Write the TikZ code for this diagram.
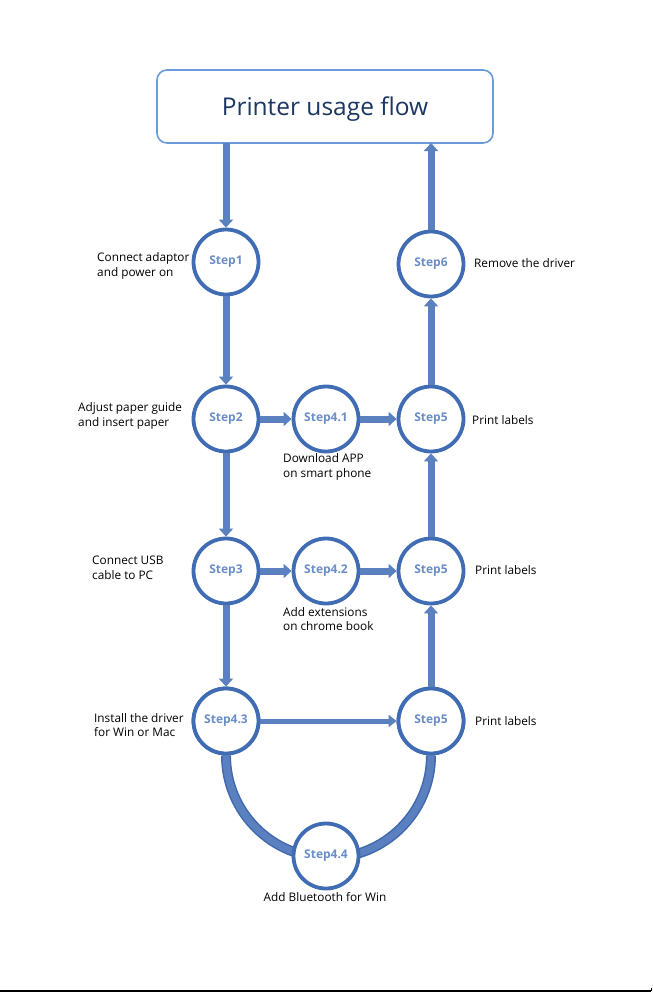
\documentclass[tikz,border=0pt]{standalone}
\usepackage{fontspec}
\setmainfont{Open Sans}
\usetikzlibrary{arrows.meta}
\definecolor{ring}{HTML}{3F6CB2}
\definecolor{arrowc}{HTML}{5A80C0}
\definecolor{arrowedge}{HTML}{4169AD}
\definecolor{steptxt}{HTML}{6A8DC8}
\definecolor{titleedge}{HTML}{6A9BD8}
\definecolor{titletxt}{HTML}{1C3762}
\tikzset{
  stepnode/.style={circle, draw=ring, line width=3.8pt, fill=white, minimum size=65pt, inner sep=0pt,
    text=steptxt, font=\fontsize{12}{14}\selectfont\bfseries},
  lbl/.style={font=\fontsize{11.8}{14.5}\selectfont, align=left, inner sep=0pt, text=black},
  conn/.style={draw=arrowc, line width=7pt, -{Triangle[width=14pt,length=8pt]}},
  connthin/.style={draw=arrowc, line width=5pt, -{Triangle[width=12pt,length=8pt]}},
  bigarc/.style={draw=arrowedge, line width=10pt},
  bigarcin/.style={draw=arrowc, line width=7pt},
}
\begin{document}
\begin{tikzpicture}[x=1pt,y=-1pt]
\useasboundingbox (0,0) rectangle (653,993);
\fill[white] (0,0) rectangle (653,993);
\node[draw=titleedge, line width=1.6pt, rounded corners=10pt, minimum width=336pt, minimum height=73pt,
  text=titletxt] (title) at (325,106.5) {};
\node[font=\fontsize{24.5}{28}\selectfont, text=titletxt, inner sep=0pt] (ttext) at (325,109) {Printer usage flow};

% arc behind
\node[stepnode] (s43) at (226,721) {Step4.3};
\node[stepnode] (s5c) at (431,721) {Step5};
\draw[bigarc] (s43.south) arc[start angle=180,end angle=0,radius=102.5];
\draw[bigarcin] (s43.south) arc[start angle=180,end angle=0,radius=102.5];
\node[stepnode] at (226,721) {Step4.3};
\node[stepnode] at (431,721) {Step5};

\node[stepnode] (s1) at (226,262) {Step1};
\node[stepnode] (s6) at (431,264) {Step6};
\node[stepnode] (s2) at (226,419) {Step2};
\node[stepnode] (s41) at (326,419) {Step4.1};
\node[stepnode] (s5a) at (431,419) {Step5};
\node[stepnode] (s3) at (226,571) {Step3};
\node[stepnode] (s42) at (326,571) {Step4.2};
\node[stepnode] (s5b) at (431,571) {Step5};
\node[stepnode] (s44) at (326,856) {Step4.4};

% connectors
\coordinate (tb) at (226,143);
\coordinate (tt) at (431,143);
\draw[conn] (tb) -- (s1.north);
\draw[conn] (s1.south) -- (s2.north);
\draw[conn] (s2.east) -- (s41.west);
\draw[conn] (s41.east) -- (s5a.west);
\draw[conn] (s5a.north) -- (s6.south);
\draw[conn] (s6.north) -- (tt);
\draw[conn] (s2.south) -- (s3.north);
\draw[conn] (s3.east) -- (s42.west);
\draw[conn] (s42.east) -- (s5b.west);
\draw[conn] (s5b.north) -- (s5a.south);
\draw[conn] (s3.south) -- (s43.north);
\draw[connthin] (s43.east) -- (s5c.west);
\draw[conn] (s5c.north) -- (s5b.south);

% labels
\node[lbl, anchor=west] (l1) at (97,266) {Connect adaptor\\and power on};
\node[lbl, anchor=west] (l6) at (474,263) {Remove the driver};
\node[lbl, anchor=west] (l2) at (78,416) {Adjust paper guide\\and insert paper};
\node[lbl, anchor=west] (l41) at (283,467) {Download APP\\on smart phone};
\node[lbl, anchor=west] (l5a) at (472,420) {Print labels};
\node[lbl, anchor=west] (l3) at (92,568) {Connect USB\\cable to PC};
\node[lbl, anchor=west] (l42) at (283,619) {Add extensions\\on chrome book};
\node[lbl, anchor=west] (l5b) at (475,570) {Print labels};
\node[lbl, anchor=west] (l43) at (94,725) {Install the driver\\for Win or Mac};
\node[lbl, anchor=west] (l5c) at (475,721) {Print labels};
\node[lbl] (l44) at (325,897) {Add Bluetooth for Win};

% bottom rule
\draw[black, line width=1.5pt] (0,991) -- (651,991);
\draw[black, line width=0.8pt] (651,991) -- (651,988);
\end{tikzpicture}
\end{document}
